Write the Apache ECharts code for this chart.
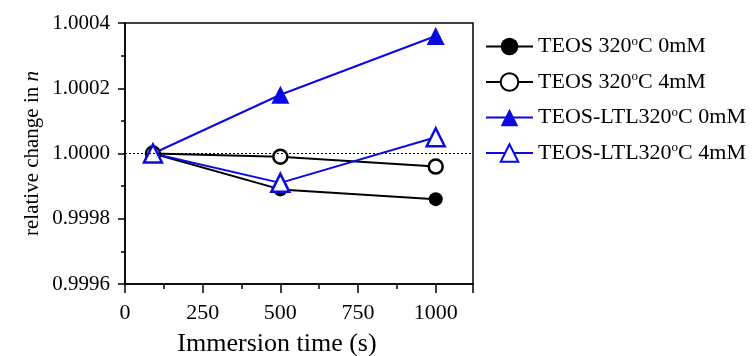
<!DOCTYPE html>
<html>
<head>
<meta charset="utf-8">
<script src="https://cdn.jsdelivr.net/npm/echarts@6/dist/echarts.min.js"></script>
<style>
  html, body { margin: 0; padding: 0; background: #fff; }
  #chart { width: 756px; height: 356px; }
</style>
</head>
<body>
<div id="chart"></div>
<script>
  var times = [90, 500, 1000];
  var teos0 = [1.0000, 0.99989, 0.99986];
  var teos4 = [1.0000, 0.99999, 0.99996];
  var ltl0 = [1.0000, 1.00018, 1.00036];
  var ltl4 = [1.0000, 0.99991, 1.00005];
  var names = ['TEOS 320oC 0mM', 'TEOS 320oC 4mM', 'TEOS-LTL320oC 0mM', 'TEOS-LTL320oC 4mM'];

  var black = '#000000';
  var blue = '#0a0ae0';
  var font = '"Liberation Serif", "Times New Roman", serif';

  function pts(vals) {
    return vals.map(function (v, i) { return [times[i], v]; });
  }

  function mk(name, vals, color, symbol, size, filled) {
    return {
      name: name,
      type: 'line',
      data: pts(vals),
      symbol: symbol,
      symbolSize: size,
      showSymbol: true,
      lineStyle: { color: color, width: 2 },
      itemStyle: {
        color: filled ? color : '#fff',
        borderColor: color,
        borderWidth: filled ? 0 : 2.5
      },
      z: 3
    };
  }

  var chart = echarts.init(document.getElementById('chart'));
  var series = [
    mk(names[0], teos0, black, 'circle', 14, true),
    mk(names[1], teos4, black, 'circle', 14, false),
    mk(names[2], ltl0, blue, 'triangle', 18, true),
    mk(names[3], ltl4, blue, 'triangle', 18, false)
  ];
  series[0].markLine = {
    silent: true,
    symbol: 'none',
    label: { show: false },
    lineStyle: { color: '#000', type: [2, 2], width: 1 },
    data: [{ yAxis: 1.0 }]
  };

  chart.setOption({
    animation: false,
    backgroundColor: '#fff',
    textStyle: { fontFamily: font, color: '#000' },
    grid: {
      left: 125, top: 23, width: 348, height: 261,
      containLabel: false, outerBoundsMode: 'none',
      show: true, borderColor: '#000', borderWidth: 1.5, backgroundColor: 'transparent'
    },
    legend: {
      orient: 'vertical',
      left: 480,
      top: 30,
      itemWidth: 47,
      itemHeight: 22,
      itemGap: 13,
      data: names,
      formatter: function (n) {
        var p = n.split('oC');
        return p[0] + '{sup|o}C' + p[1];
      },
      textStyle: {
        fontFamily: font,
        fontSize: 22,
        color: '#000',
        rich: {
          sup: { fontFamily: font, fontSize: 13, verticalAlign: 'top', padding: [0, 0, 10, 0] }
        }
      }
    },
    xAxis: {
      type: 'value',
      min: 0,
      max: 1120,
      interval: 250,
      name: 'Immersion time (s)',
      nameLocation: 'middle',
      nameGap: 47,
      nameTextStyle: { fontFamily: font, fontSize: 26, color: '#000', padding: [0, 44, 0, 0] },
      axisLine: { show: true, lineStyle: { color: '#000', width: 1.5 } },
      axisTick: { show: true, inside: false, length: 9, lineStyle: { color: '#000', width: 1.5 } },
      minorTick: { show: true, splitNumber: 2, length: 5, lineStyle: { color: '#000', width: 1.5 } },
      splitLine: { show: false },
      axisLabel: {
        fontFamily: font, fontSize: 22, color: '#000', margin: 18, showMaxLabel: false,
        formatter: function (v) { return String(v); }
      }
    },
    yAxis: {
      type: 'value',
      min: 0.9996,
      max: 1.0004,
      interval: 0.0002,
      name: 'relative change in {i|n}',
      nameLocation: 'middle',
      nameGap: 82,
      nameTextStyle: {
        fontFamily: font, fontSize: 21, color: '#000',
        rich: { i: { fontFamily: font, fontSize: 21, fontStyle: 'italic' } }
      },
      axisLine: { show: true, lineStyle: { color: '#000', width: 1.5 } },
      axisTick: { show: true, inside: false, length: 7, lineStyle: { color: '#000', width: 1.5 } },
      minorTick: { show: true, splitNumber: 2, length: 4, lineStyle: { color: '#000', width: 1.5 } },
      splitLine: { show: false },
      axisLabel: {
        fontFamily: font, fontSize: 21, color: '#000', margin: 15,
        formatter: function (v) { return v.toFixed(4); }
      }
    },
    series: series
  });
</script>
</body>
</html>
